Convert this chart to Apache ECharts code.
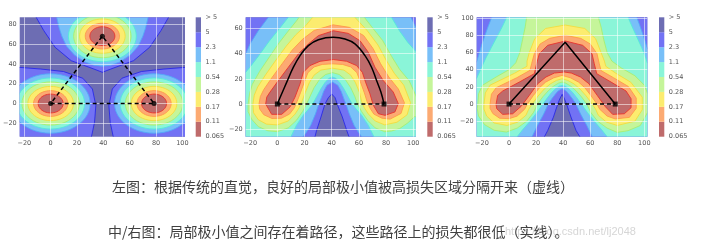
<!DOCTYPE html>
<html><head><meta charset="utf-8">
<script src="https://cdn.jsdelivr.net/npm/echarts@6/dist/echarts.min.js"></script>
<style>html,body{margin:0;padding:0;background:#fff}#c{width:704px;height:248px}</style>
</head><body><div id="c"></div>
<script>
// ---------- colour bar ----------
const cbLabels = ['0.065','0.11','0.17','0.28','0.54','1.1','2.3','5','> 5'];
const bandColors = ['#bf6b6b','#fcaa72','#fcec6f','#c5f59a','#8af5d8','#78bff8','#7272f4','#6d6db3'];
const lineColors = ['#e8322e','#ff9a4a','#f2dc40','#a8ee70','#55e8dc','#55a8f8','#2a2ae6'];

// ---------- plot 1 (three separated minima) ----------
const p1Minima = [[0,0],[78.5,0],[39.25,68]];
const p1RingRadii = [9.5, 13, 17.3, 21.8, 25.8, 30];
const p1BlueBL = [[-40,36.5],[-24,36.5],[-7.5,34.8],[9.7,32.3],[24.4,25.5],[31.7,14.6],[34.3,-2],[33.3,-19],[31,-33.5],[30,-45],[-40,-45]];
const p1BlueBR = [[118.5,36.5],[102.5,36.5],[86,34.8],[68.8,32.3],[54.1,25.5],[46.8,14.6],[44.2,-2],[45.2,-19],[47.5,-33.5],[48.5,-45],[118.5,-45]];
const p1BlueTop = [[-12,100],[-11,87],[-5.2,73.5],[3.4,56.7],[15.6,43.2],[32.8,34.8],[39.25,31.5],[45.7,34.8],[62.9,43.2],[75.1,56.7],[83.7,73.5],[89.5,87],[90.5,100]];
const p1LightBlueTop = [[3,100],[4.6,87],[6.5,76],[8.5,68],[12,58],[18,49],[26,42],[33,38.5],[39.25,37.7],[45.5,38.5],[52.5,42],[60.5,49],[66.5,58],[70,68],[72,76],[74,87],[75.5,100]];
const p1Path = [[0,0],[78.5,0],[39.25,68],[0,0]];

// ---------- plot 2 (curved low-loss path) ----------
const p2Level5 = [[-40,-40],[-40,80],[115,80],[115,-40],[54,-40],[52.7,-26],[51,-20.9],[47.8,-10.3],[44,0],[42.5,5],[40,8],[37.5,5],[35,0],[32.1,-10.3],[28.9,-20.9],[27.7,-26],[26.5,-40]];
const p2Level23 = [[-40,25],[-23.3,39.9],[-20.1,47.8],[-14,58.3],[-6.6,69],[-5,80],[97,80],[98.3,69],[100.5,64],[101.8,61.2],[115,50],[115,-40],[63,-40],[62,-26],[60,-23],[56.5,-17],[53,-8],[50.5,0],[49,4],[47,10],[44.5,15],[40.5,17.5],[36.5,15],[34,10],[32,4],[30.5,0],[28,-8],[24.5,-17],[21,-23],[19,-26],[18,-40],[-40,-40]];
const p2Level11 = [[-40,10],[-23.3,25.3],[-20,29.5],[-14,38],[-6,50],[1.5,60],[8.1,69],[10,80],[86,80],[84,69],[90,58],[96,49],[101.8,42],[115,30],[115,-40],[73,-40],[71,-26],[67,-17],[62,-9],[58,-4],[55,0],[52,6],[49,12],[46,17],[43,20.5],[40.5,21.5],[38,20.5],[35,17],[32,12],[29,6],[26,0],[23,-4],[19,-9],[14,-17],[10,-26],[9,-40],[-40,-40]];
const p2Level054 = [[-21.5,-6],[-21.5,0],[-20.5,8],[-18.5,15.5],[-13,26],[-5.5,38],[1.5,49],[8,58],[14,66],[16,69],[16,80],[64,80],[64,69],[69,62],[77.5,50.5],[84,38],[90,27.5],[97,18.5],[103,4],[110,4],[110,-10],[101,-10],[96,-15],[90,-19.5],[84,-21.5],[79,-22],[72,-19],[66.5,-13],[62,-6],[59,0],[57,6],[54,13],[50,19.5],[45.5,23.5],[40.5,25],[35.5,23.5],[31,19.5],[27,13],[24,6],[21.5,0],[18.5,-6],[14,-13],[8,-19],[0,-22],[-7,-21.3],[-14,-18],[-19,-12]];
const p2Level028 = [[-18,0],[-17,7],[-14.5,13.5],[-8.5,23.5],[-1,35],[6.5,46],[13.5,55],[21,62.5],[26,69],[26,80],[57,80],[57,69],[66,58.5],[74,47],[80,35],[86,24.5],[93,15],[98,1],[95.5,-8.5],[88,-14.5],[79,-16.6],[72,-13.5],[67,-8],[64,-3],[62,2],[60.5,9],[57.5,17],[54,23],[49,27],[40.5,28.5],[32,27],[27,23],[23.5,17],[20.5,9],[18,2],[16,-3],[13,-8],[8,-13.5],[0,-16.6],[-8,-16],[-14,-12.5],[-17.5,-7]];
const p2Level017 = [[-13.5,0],[-12.5,6],[-10,11.5],[-4,21],[3.5,32],[11,43],[18.5,51.5],[27,58.5],[41,63],[53,61],[63.5,54.5],[70.5,44],[76,32],[82,21.5],[89,12],[93.5,1],[91,-7.5],[83,-12],[77,-11.3],[71,-8],[68,-3],[66,2],[64,9],[61,18],[58.5,25],[54,29.5],[48,31.5],[40.5,32],[33,31.5],[27,29.5],[22.5,25],[20,18],[17,9],[14.5,2],[12.5,-3],[9,-8],[3,-11.3],[-4,-11.5],[-10,-8.5],[-13,-4]];
const p2Level011 = [[-8.6,0],[-7.8,5.5],[-5.4,9.5],[0.75,18.7],[8.1,29.3],[15.5,39.9],[22.8,47.8],[30.2,54.4],[41.2,58.3],[52.2,56.2],[60.8,50.4],[66.9,41.2],[71.8,29.3],[77.9,18.7],[85.3,9.5],[89,0.3],[86.5,-6.3],[79.2,-9],[74.3,-7.7],[70.6,-1],[68.1,8.2],[64.9,17.4],[62.5,25.3],[58.3,30.6],[51,34],[41.2,35.4],[31.4,34],[24,30.6],[19.1,25.3],[16.7,16.1],[13,5.5],[9.3,-2.4],[3.2,-8.2],[-4.2,-8.2]];
const p2Arc = [[0,0],[3.2,8.2],[6.9,17.4],[11.8,29.3],[16.7,38.5],[22.8,46.5],[30.2,51.2],[41.2,53.1],[49.8,51.7],[57.1,47.8],[64.5,38.5],[69.3,29.3],[73,18.7],[76.2,9.5],[78.5,0]];
const p2Chord = [[0,0],[78.5,0]];

// ---------- plot 3 (polygonal low-loss path) ----------
const p3Level5 = [[-40,-50],[-40,115],[115,115],[115,-50],[55.5,-50],[55,-45],[52.5,-38.5],[49.5,-30.7],[45.8,-15.2],[42.5,0],[41,6],[39.25,11.3],[37.5,6],[36,0],[32.8,-15.2],[28.6,-30.7],[26,-38.5],[23.5,-45],[23,-50]];
const p3Level23 = [[-40,40],[-23.9,49.3],[-20,70],[-16,88],[-12.8,101],[-12,115],[94.4,115],[94.4,101],[97,90],[100,76],[102.2,64.9],[115,55],[115,-50],[64,-50],[63.5,-45],[61.5,-38],[57.5,-25],[53,-12],[49.5,0],[47,6],[44.5,11],[42.5,14.8],[40.5,17],[39.25,17.9],[38,17],[36,14.8],[34,11],[31.5,6],[29,0],[25.5,-12],[21,-25],[17,-38],[15,-45],[15,-50],[-40,-50]];
const p3Level11 = [[-40,22],[-23.9,30],[-20.5,42],[-17,54],[-13,66],[-9,78],[-5,90],[-1.7,101],[-1,115],[88,115],[88,101],[91,90],[94.5,78],[98,66],[101,54],[102.2,48],[115,40],[115,-50],[75,-50],[74.5,-45],[72.5,-38],[68.5,-30],[63.5,-21],[58,-10],[53.5,0],[50,7.5],[47,13.5],[44,18],[41.5,20.8],[39.25,21.8],[37,20.8],[34.5,18],[31.5,13.5],[28.5,7.5],[25,0],[20.5,-10],[15,-21],[10,-30],[6,-38],[4,-45],[4,-50],[-40,-50]];
const p3Level054 = [[-23.5,-5],[-23,0],[-22.5,12],[-19.5,22],[-9,32],[0,40],[5,48],[8,60],[10,75],[12,90],[13,101],[13,115],[66,115],[66,101],[68,90],[70,75],[72.5,60],[76,50],[83,42],[93,33],[100,22],[103,10],[103,-8],[97,-25],[88,-31],[80,-33],[72.5,-28],[65.5,-20],[60.5,-10],[57.5,0],[53.5,8.5],[49.5,15.5],[45.5,21],[42,24.3],[39.25,25.6],[36.5,24.3],[33,21],[29,15.5],[25,8.5],[21,0],[18,-10],[13,-20],[6,-28],[-2,-32.6],[-11,-30.5],[-18,-24],[-22.5,-14]];
const p3Level028 = [[-18.5,0],[-17.5,13],[-14,22],[4,35.8],[13.3,44],[13.3,50],[15,60],[19,76],[27,88],[41.5,92],[56,88],[64,76],[68,60],[70.5,50],[71.5,44],[79,35.8],[90,25.4],[98.5,8],[98.5,-6.5],[93,-20],[80,-24.9],[72,-21],[66,-13],[64,-6],[61.5,0],[57,9.5],[52.5,17.5],[48,23.5],[43.5,27.5],[39.25,29.5],[35,27.5],[30.5,23.5],[26,17.5],[21.5,9.5],[17,0],[14.5,-6],[12.5,-13],[6.5,-21],[-1.5,-24.9],[-11,-22],[-16.5,-14],[-18.5,-6]];
const p3Level017 = [[-14,0],[-13,11.5],[-9.5,19],[5.8,30.7],[15.5,39.3],[16.7,47],[18.7,58.7],[23,70],[30,76.5],[41.5,80],[53,76.5],[60,70],[65,58.7],[66.7,47],[68,39],[77.2,30.7],[88.3,20.3],[94,7],[94,-5],[89,-15.5],[78.5,-17.3],[72.5,-14],[67,-6],[65,0],[60.5,10],[56,19],[51.5,25.5],[45.5,30.5],[39.25,33.4],[33,30.5],[27,25.5],[22.5,19],[18,10],[13.5,0],[11.5,-6],[6,-14],[0,-17],[-7,-16.5],[-12,-11],[-14,-5]];
const p3Level011 = [[-9.6,-0.4],[-8.4,10.1],[-4.7,15.2],[7.6,25.6],[18.7,35.4],[20.4,47],[22.4,58.7],[28.6,68.4],[41.6,73.4],[54.4,68.4],[61.3,58.7],[63,47],[64.8,35.4],[75.4,25.6],[86.5,15.2],[90.2,6.2],[90.2,-4.3],[85.2,-11.3],[76.6,-12],[71.2,-3.1],[65.2,10.1],[59,23.7],[52.8,31.5],[46,36.1],[40.9,37.3],[33.5,36.1],[27.3,31.5],[21.2,23.7],[15,10.1],[8.9,-2.7],[2.7,-11.3],[-4.7,-12],[-9.1,-5.4]];
const p3Path = [[0,0],[41.5,72],[78.5,0]];
const p3Chord = [[0,0],[78.5,0]];

// ---------- captions ----------
const caption1 = '左图：根据传统的直觉，良好的局部极小值被高损失区域分隔开来（虚线）';
const caption2 = '中/右图：局部极小值之间存在着路径，这些路径上的损失都很低（实线）。';
const watermark = 'https://blog.csdn.net/lj2048';

// ---------- shape lists (level index = colour band) ----------
const shapes1 = [
  {lvl:6, pts:p1BlueBL},{lvl:6, pts:p1BlueBR},{lvl:6, pts:p1BlueTop},
  {lvl:5, c:p1Minima[0], r:p1RingRadii[5]},{lvl:5, c:p1Minima[1], r:p1RingRadii[5]},{lvl:5, pts:p1LightBlueTop}
];
for (let l = 4; l >= 0; l--) p1Minima.forEach(c => shapes1.push({lvl:l, c:c, r:p1RingRadii[l]}));
const shapes2 = [[6,p2Level5],[5,p2Level23],[4,p2Level11],[3,p2Level054],[2,p2Level028],[1,p2Level017],[0,p2Level011]].map(a=>({lvl:a[0],pts:a[1]}));
const shapes3 = [[6,p3Level5],[5,p3Level23],[4,p3Level11],[3,p3Level054],[2,p3Level028],[1,p3Level017],[0,p3Level011]].map(a=>({lvl:a[0],pts:a[1]}));

function makeRender(shapes){
  return function(params, api){
    const s = shapes[params.dataIndex];
    let pts;
    if (s.pts) pts = s.pts.map(p => api.coord(p));
    else {
      pts = [];
      for (let k = 0; k < 48; k++) {
        const a = k / 48 * Math.PI * 2;
        pts.push(api.coord([s.c[0] + s.r * Math.cos(a), s.c[1] + s.r * Math.sin(a)]));
      }
    }
    const cs = params.coordSys;
    return {
      type:'polygon', z2: params.dataIndex,
      shape:{points:pts},
      style:{fill:bandColors[s.lvl], stroke:lineColors[s.lvl], lineWidth:0.9, lineJoin:'round'},
      clipPath:{type:'rect', shape:{x:cs.x, y:cs.y, width:cs.width, height:cs.height}}
    };
  };
}

const FONT = 'DejaVu Sans';
const fmt = v => String(v).replace('-', '\u2212');
function plotX(gi, min, max){
  return {gridIndex:gi, type:'value', min:min, max:max, splitNumber:6, minInterval:20, maxInterval:20, z:3,
    axisLine:{show:false}, axisTick:{show:false},
    splitLine:{show:true, showMinLine:false, showMaxLine:false, lineStyle:{color:'rgba(255,255,255,0.55)', width:1}},
    axisLabel:{showMinLabel:false, showMaxLabel:false, fontSize:6.5, fontFamily:FONT, color:'#555', margin:3, formatter:fmt}};
}
function plotY(gi, min, max){
  const a = plotX(gi, min, max);
  a.axisLabel.margin = 3;
  return a;
}
function cbX(gi){ return {gridIndex:gi, type:'category', data:['c'], show:false}; }
function cbY(gi){
  return {gridIndex:gi, type:'value', min:0, max:8, interval:1, position:'right',
    axisLine:{show:false}, axisTick:{show:false}, splitLine:{show:false},
    axisLabel:{fontSize:6.5, fontFamily:FONT, color:'#555', margin:4.5, formatter:v => cbLabels[v]}};
}
const gridTop = 17.3, gridH = 119.4;
const grids = [
  {left:14.3, top:gridTop, width:170.7, height:gridH},
  {left:195.7, top:gridTop, width:5.3, height:gridH},
  {left:245.7, top:gridTop, width:170, height:gridH},
  {left:427.3, top:gridTop, width:5.4, height:gridH},
  {left:476.7, top:gridTop, width:170.6, height:gridH},
  {left:659, top:gridTop, width:5.3, height:gridH}
].map(g => Object.assign(g, {show:true, backgroundColor:bandColors[7], borderWidth:0, containLabel:false}));
grids[1].backgroundColor = grids[3].backgroundColor = grids[5].backgroundColor = 'transparent';

const series = [];
[[0,shapes1],[2,shapes2],[4,shapes3]].forEach(([gi, sh]) => {
  series.push({type:'custom', xAxisIndex:gi, yAxisIndex:gi, clip:true, silent:true, z:2,
    renderItem:makeRender(sh), data:sh.map((s,i)=>[i,0])});
});
[1,3,5].forEach(gi => {
  for (let b = 0; b < 8; b++) series.push({type:'bar', xAxisIndex:gi, yAxisIndex:gi, stack:'cb'+gi, data:[1],
    barWidth:'100%', silent:true, itemStyle:{color:bandColors[b]}});
});
const dash = {type:[4,3], width:1.5, color:'#000'};
series.push({type:'line', xAxisIndex:0, yAxisIndex:0, data:p1Path, symbol:'none', lineStyle:dash, z:6, silent:true});
series.push({type:'scatter', xAxisIndex:0, yAxisIndex:0, data:p1Minima, symbol:'circle', symbolSize:5, itemStyle:{color:'#000'}, z:7, silent:true});
series.push({type:'line', xAxisIndex:2, yAxisIndex:2, data:p2Chord, symbol:'none', lineStyle:dash, z:6, silent:true});
series.push({type:'line', xAxisIndex:2, yAxisIndex:2, data:p2Arc, smooth:0.4, symbol:'none', lineStyle:{width:1.5, color:'#000'}, z:6, silent:true});
series.push({type:'scatter', xAxisIndex:2, yAxisIndex:2, data:p2Chord, symbol:'rect', symbolSize:5, itemStyle:{color:'#000'}, z:7, silent:true});
series.push({type:'line', xAxisIndex:4, yAxisIndex:4, data:p3Chord, symbol:'none', lineStyle:dash, z:6, silent:true});
series.push({type:'line', xAxisIndex:4, yAxisIndex:4, data:p3Path, symbol:'none', lineStyle:{width:1.5, color:'#000'}, z:6, silent:true});
series.push({type:'scatter', xAxisIndex:4, yAxisIndex:4, data:p3Chord, symbol:'rect', symbolSize:5, itemStyle:{color:'#000'}, z:7, silent:true});

const chart = echarts.init(document.getElementById('c'), null, {renderer:'canvas'});
chart.setOption({
  animation:false,
  backgroundColor:'#fff',
  title:[
    {text:caption1, left:112, top:179.7, padding:0, textStyle:{fontSize:14, fontWeight:'normal', color:'#404040', fontFamily:'Noto Sans CJK SC'}},
    {text:caption2, left:108, top:225, padding:0, textStyle:{fontSize:14, fontWeight:'normal', color:'#404040', fontFamily:'Noto Sans CJK SC'}}
  ],
  graphic:[{type:'text', left:505, top:226.5, z:0, silent:true,
    style:{text:watermark, fontSize:11, fontFamily:'Liberation Sans', fill:'#d6d6d6'}}],
  grid:grids,
  xAxis:[plotX(0,-23.5,102), cbX(1), plotX(2,-23.3,101.8), cbX(3), plotX(4,-23.9,102.2), cbX(5)],
  yAxis:[plotY(0,-33.5,87), cbY(1), plotY(2,-26,69), cbY(3), plotY(4,-38,101), cbY(5)],
  series:series
});
</script></body></html>
